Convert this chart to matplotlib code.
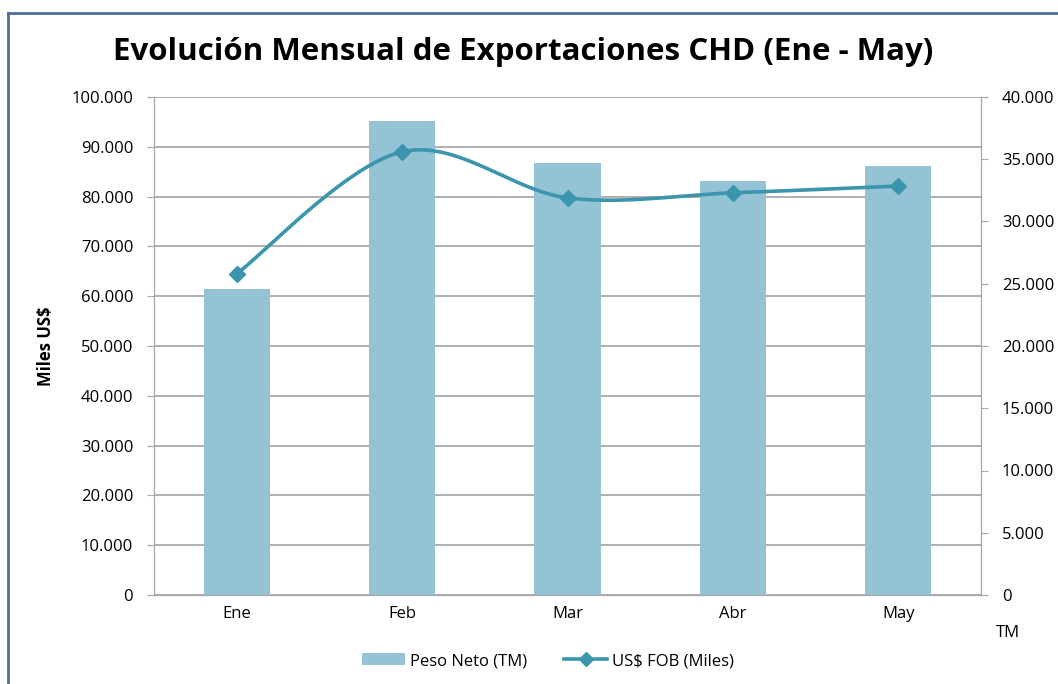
import matplotlib
matplotlib.use("Agg")
import matplotlib.pyplot as plt
from matplotlib.lines import Line2D
from matplotlib.patches import Patch
from matplotlib.ticker import FuncFormatter
import numpy as np

plt.rcParams['font.family'] = ['Open Sans', 'DejaVu Sans']

meses = ["Ene", "Feb", "Mar", "Abr", "May"]
peso_neto = [61400, 95200, 86700, 83100, 86100]      # eje izquierdo
fob_miles = [25800, 35600, 31900, 32300, 32850]      # eje derecho

bar_color = "#93C3D4"
line_color = "#3A95AD"

W, H = 1058, 684
fig = plt.figure(figsize=(W / 100, H / 100), dpi=100)
fig.patch.set_facecolor("white")

# area del grafico (pixeles medidos)
L, R, T, B = 154, 981, 97, 595
ax = fig.add_axes([L / W, 1 - B / H, (R - L) / W, (B - T) / H])
ax2 = ax.twinx()

x = np.arange(len(meses))
ax.bar(x, peso_neto, width=0.4, color=bar_color, zorder=2)
ax.set_xlim(-0.5, len(meses) - 0.5)
ax.set_ylim(0, 100000)
ax.set_yticks(np.arange(0, 100001, 10000))
ax2.set_ylim(0, 40000)
ax2.set_yticks(np.arange(0, 40001, 5000))

fmt = FuncFormatter(lambda v, p: "0" if v == 0 else f"{int(v):,}".replace(",", "."))
ax.yaxis.set_major_formatter(fmt)
ax2.yaxis.set_major_formatter(fmt)

ax.yaxis.grid(True, color="#9a9a9a", linewidth=1.1, zorder=0)
ax.set_axisbelow(True)

# linea suavizada tipo Excel (Catmull-Rom en pixeles)
pw, ph = R - L, B - T
px = (x + 0.5) / len(meses) * pw
py = np.array(fob_miles) / 40000 * ph
cx, cy = [], []
n = len(px)
for i in range(n - 1):
    p0 = (px[max(i - 1, 0)], py[max(i - 1, 0)])
    p1 = (px[i], py[i])
    p2 = (px[i + 1], py[i + 1])
    p3 = (px[min(i + 2, n - 1)], py[min(i + 2, n - 1)])
    c1 = (p1[0] + (p2[0] - p0[0]) / 6, p1[1] + (p2[1] - p0[1]) / 6)
    c2 = (p2[0] - (p3[0] - p1[0]) / 6, p2[1] - (p3[1] - p1[1]) / 6)
    t = np.linspace(0, 1, 40)
    bx = (1 - t) ** 3 * p1[0] + 3 * (1 - t) ** 2 * t * c1[0] + 3 * (1 - t) * t ** 2 * c2[0] + t ** 3 * p2[0]
    by = (1 - t) ** 3 * p1[1] + 3 * (1 - t) ** 2 * t * c1[1] + 3 * (1 - t) * t ** 2 * c2[1] + t ** 3 * p2[1]
    cx.extend(bx)
    cy.extend(by)
cx = np.array(cx) / pw * len(meses) - 0.5
cy = np.array(cy) / ph * 40000
ax2.plot(cx, cy, color=line_color, linewidth=2.6, zorder=3)
ax2.plot(x, fob_miles, linestyle="none", marker="D", markersize=8,
         color=line_color, zorder=4)

ax.set_xticks(x)
ax.set_xticklabels(meses)
for a in (ax, ax2):
    for s in a.spines.values():
        s.set_color("#a6a6a6")
    a.tick_params(axis="y", colors="#a6a6a6", labelcolor="black", labelsize=12, length=5)
ax.tick_params(axis="x", length=0, labelsize=12, pad=8)
ax.spines["top"].set_visible(False)
ax2.spines["top"].set_visible(False)
ax.tick_params(axis="y", pad=10)
ax2.tick_params(axis="y", pad=10)

ax.set_ylabel("Miles US$", fontsize=12, fontweight="bold", labelpad=12)
fig.text(1008 / W, 1 - 633 / H, "TM", fontsize=12, ha="center", va="center")

fig.text(523 / W, 1 - 52 / H, "Evolución Mensual de Exportaciones CHD (Ene - May)",
         fontsize=22.5, fontweight="bold", ha="center", va="center")

handles = [Patch(facecolor=bar_color, label="Peso Neto (TM)"),
           Line2D([0], [0], color=line_color, linewidth=2.6, marker="D",
                  markersize=7, label="US$ FOB (Miles)")]
fig.legend(handles=handles, loc="center", bbox_to_anchor=(548 / W, 1 - 661 / H),
           ncol=2, frameon=False, fontsize=12, handlelength=2.6,
           handletextpad=0.3, columnspacing=2.2)

# marco exterior
fig.add_artist(Line2D([8 / W, 8 / W], [0, 1 - 13 / H], color="#4a6f9f", linewidth=2))
fig.add_artist(Line2D([8 / W, 1], [1 - 13 / H, 1 - 13 / H], color="#4a6f9f", linewidth=2))

fig.savefig("out.png", dpi=100)
